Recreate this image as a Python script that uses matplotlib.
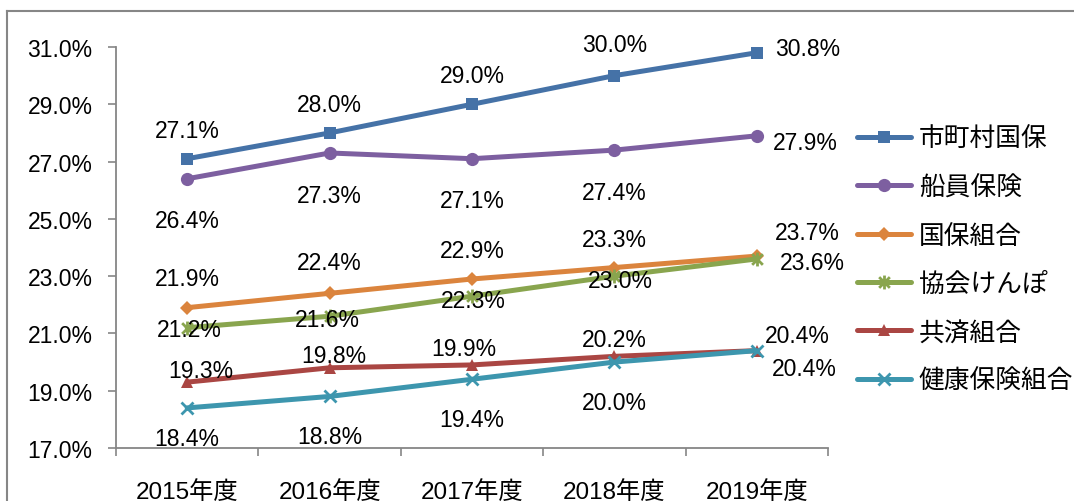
import matplotlib
matplotlib.use("Agg")
import matplotlib.pyplot as plt
from matplotlib.path import Path
from matplotlib.lines import Line2D

plt.rcParams['font.family'] = ['Liberation Sans', 'Noto Sans CJK JP', 'DejaVu Sans']

categories = ['2015年度', '2016年度', '2017年度', '2018年度', '2019年度']
series_names = ['市町村国保', '船員保険', '国保組合', '協会けんぽ', '共済組合', '健康保険組合']
shichoson = [27.1, 28.0, 29.0, 30.0, 30.8]
senin = [26.4, 27.3, 27.1, 27.4, 27.9]
kokuho_kumiai = [21.9, 22.4, 22.9, 23.3, 23.7]
kyokai = [21.2, 21.6, 22.3, 23.0, 23.6]
kyosai = [19.3, 19.8, 19.9, 20.2, 20.4]
kenpo_kumiai = [18.4, 18.8, 19.4, 20.0, 20.4]
yticks = [17.0, 19.0, 21.0, 23.0, 25.0, 27.0, 29.0, 31.0]

colors = ['#4572A7', '#7D5FA0', '#DB843D', '#89A54E', '#AA4643', '#3D96AE']

star = Path([(-1, -1), (1, 1), (-1, 1), (1, -1), (0, -1.3), (0, 1.3)],
            [Path.MOVETO, Path.LINETO, Path.MOVETO, Path.LINETO, Path.MOVETO, Path.LINETO])
markers = ['s', 'o', 'D', star, '^', 'x']
msizes = [9, 9.5, 7, 10, 9, 9]

data = [shichoson, senin, kokuho_kumiai, kyokai, kyosai, kenpo_kumiai]
# label offsets in pixels (dx, dy) for each point
offs_px = [
    [(0, 28), (0, 28), (0, 29), (0, 31), (51, 4)],
    [(0, -42), (0, -43), (0, -42), (0, -42), (49, -7)],
    [(0, 29), (0, 31), (0, 29), (0, 28), (51, 24)],
    [(2, -2), (-2, -3), (1, -4), (6, -4), (56, -4)],
    [(14, 12), (4, 12), (-8, 16), (0, 17), (41, 15)],
    [(0, -31), (0, -40), (0, -40), (0, -40), (48, -18)],
]
PX2PT = 0.72

fig = plt.figure(figsize=(10.74, 5.02), dpi=100)
ax = fig.add_axes([116/1074, 1-449/502, (828-116)/1074, (449-48)/502])

x = list(range(len(categories)))
handles = []
for i, (vals, name) in enumerate(zip(data, series_names)):
    kw = dict(markeredgewidth=2) if i in (3, 5) else dict(markeredgewidth=0)
    h, = ax.plot(x, vals, color=colors[i], lw=3.6, marker=markers[i], ms=msizes[i],
                 markerfacecolor=colors[i], markeredgecolor=colors[i], label=name,
                 solid_capstyle='round', clip_on=False, **kw)
    handles.append(h)
    for j, v in enumerate(vals):
        dx, dy = offs_px[i][j]
        ax.annotate(f'{v:.1f}%', (x[j], v), xytext=(dx * PX2PT, dy * PX2PT),
                    textcoords='offset points', ha='center', va='center',
                    fontsize=16.5, color='black')

ax.set_xlim(-0.5, len(categories) - 0.5)
ax.set_ylim(17, 31)
ax.set_yticks(yticks)
ax.set_yticklabels([f'{t:.1f}%' for t in yticks], fontsize=16.5)
ax.set_xticks(x)
ax.set_xticklabels(categories, fontsize=17.5)
ax.set_xticks([k - 0.5 for k in range(len(categories) + 1)], minor=True)
ax.tick_params(axis='x', which='major', length=0, pad=23)
ax.tick_params(axis='x', which='minor', length=6, color='#868686', width=1.2)
ax.tick_params(axis='y', length=6, color='#868686', width=1.2, pad=11)
for s in ['top', 'right']:
    ax.spines[s].set_visible(False)
for s in ['left', 'bottom']:
    ax.spines[s].set_color('#868686')
    ax.spines[s].set_linewidth(1.3)

leg = fig.legend(handles=handles, loc='upper left', bbox_to_anchor=(857/1074, 1-127/502),
                 frameon=False, prop={'family': 'Noto Sans CJK JP', 'size': 18.5},
                 handlelength=2.1, labelspacing=0.87, handletextpad=0.3,
                 borderaxespad=0, borderpad=0)

# outer chart border
fig.add_artist(Line2D([7/1074, 7/1074], [0, 1-12/502], transform=fig.transFigure,
                      color='#868686', lw=1.5))
fig.add_artist(Line2D([7/1074, 1], [1-12/502, 1-12/502], transform=fig.transFigure,
                      color='#868686', lw=1.5))

fig.savefig('out.png', dpi=100)
